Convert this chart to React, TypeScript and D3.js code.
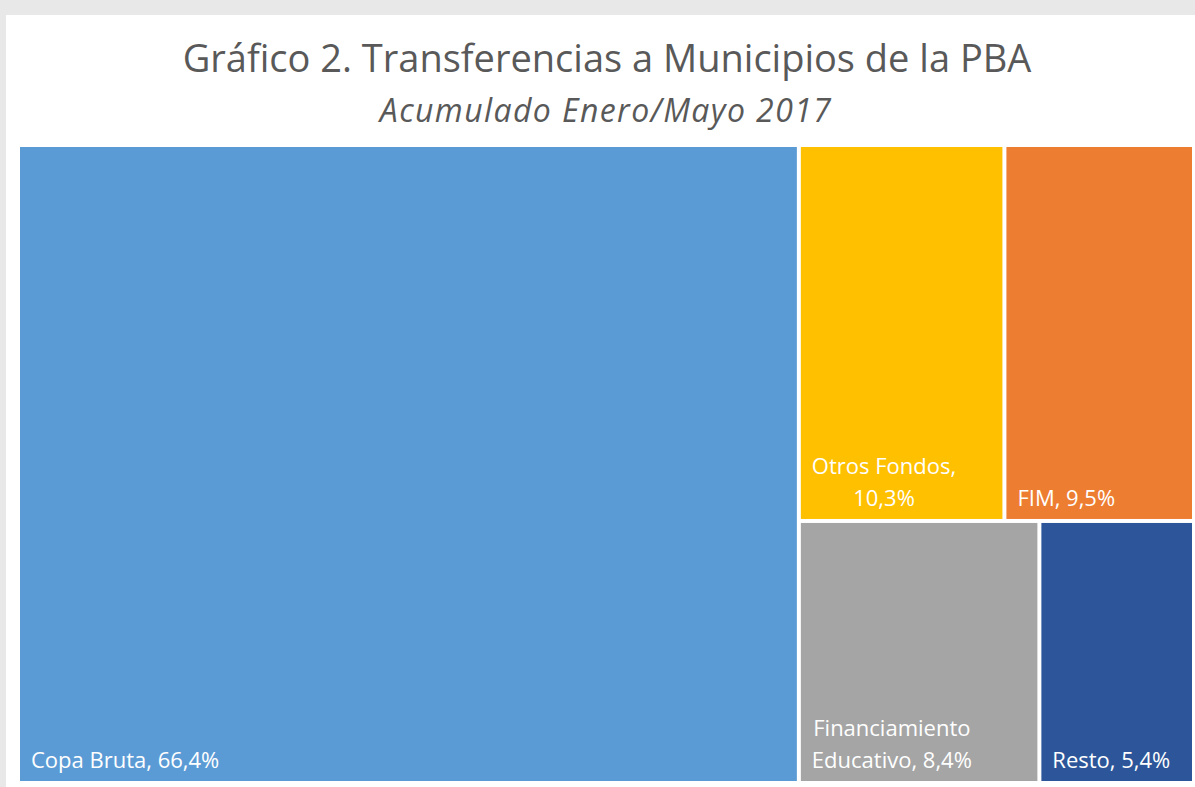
import React from "react";
import * as d3 from "d3";

const TITLE = "Gráfico 2. Transferencias a Municipios de la PBA";
const SUBTITLE = "Acumulado Enero/Mayo 2017";

// groups: 0 = main, 1 = top row of right block, 2 = bottom row of right block
const categories = ["Copa Bruta", "Otros Fondos", "FIM", "Financiamiento Educativo", "Resto"];
const values = [66.4, 10.3, 9.5, 8.4, 5.4];
const groups = [0, 1, 1, 2, 2];
const colors = ["#5B9BD5", "#FFC000", "#ED7D31", "#A5A5A5", "#2C5699"];

const W = 1195;
const H = 787;
const LABEL_SIZE = 22;
const LABEL_FONT = `${LABEL_SIZE}px 'Open Sans'`;

function measure(text: string): number {
  const c = document.createElement("canvas").getContext("2d");
  if (!c) return text.length * 11;
  c.font = LABEL_FONT;
  return c.measureText(text).width;
}

function wrap(text: string, maxW: number): string[] {
  const words = text.split(" ");
  const lines: string[] = [];
  let cur = "";
  for (const w of words) {
    const t = cur ? cur + " " + w : w;
    if (cur && measure(t) > maxW) {
      lines.push(cur);
      cur = w;
    } else cur = t;
  }
  if (cur) lines.push(cur);
  return lines;
}

type Node = { name: string; value?: number; color?: string; children?: Node[] };

export default function App() {
  const fmt = (v: number) => v.toFixed(1).replace(".", ",") + "%";
  const leaves: Node[] = categories.map((c, i) => ({ name: c, value: values[i], color: colors[i] }));
  const data: Node = {
    name: "root",
    children: [
      leaves[0],
      {
        name: "right",
        children: [
          { name: "row1", children: leaves.filter((_, i) => groups[i] === 1) },
          { name: "row2", children: leaves.filter((_, i) => groups[i] === 2) },
        ],
      },
    ],
  };
  const root = d3.hierarchy<Node>(data).sum((d) => d.value || 0);
  d3.treemap<Node>().tile(d3.treemapSliceDice).size([1172, 634]).paddingInner(4)(root);
  const ox = 20;
  const oy = 147;
  const cells = root.leaves() as d3.HierarchyRectangularNode<Node>[];

  return (
    <svg
      width={W}
      height={H}
      style={{ position: "absolute", left: 0, top: 0 }}
      fontFamily="'Open Sans', sans-serif"
    >
      <rect x={0} y={0} width={W} height={H} fill="#E8E8E8" />
      <rect x={6} y={15} width={W - 6} height={H - 15} fill="#FFFFFF" />
      <text x={607} y={72} textAnchor="middle" fontSize={38} fill="#595959">
        {TITLE}
      </text>
      <text
        x={606}
        y={122}
        textAnchor="middle"
        fontSize={32}
        letterSpacing={1.4}
        fontStyle="italic"
        fill="#595959"
      >
        {SUBTITLE}
      </text>
      <g transform={`translate(${ox},${oy})`}>
        {cells.map((c, i) => {
          const label = `${c.data.name}, ${fmt(c.data.value || 0)}`;
          const lines = wrap(label, c.x1 - c.x0 - 22);
          const maxW = Math.max(...lines.map(measure));
          const cx = c.x0 + 11 + maxW / 2;
          const lh = 32;
          return (
            <g key={i}>
              <rect x={c.x0} y={c.y0} width={c.x1 - c.x0} height={c.y1 - c.y0} fill={c.data.color} />
              {lines.map((l, j) => (
                <text
                  key={j}
                  x={cx}
                  y={c.y1 - 13 - (lines.length - 1 - j) * lh}
                  textAnchor="middle"
                  fontSize={LABEL_SIZE}
                  fill="#FFFFFF"
                >
                  {l}
                </text>
              ))}
            </g>
          );
        })}
      </g>
    </svg>
  );
}
